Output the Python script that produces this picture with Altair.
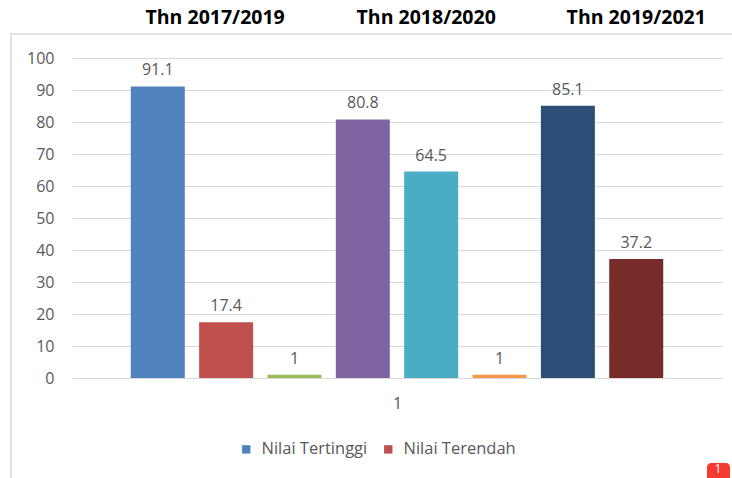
import altair as alt
import pandas as pd

# ---- data ----
bar_ids = ["b1", "b2", "b3", "b4", "b5", "b6", "b7", "b8"]
values = [91.1, 17.4, 1, 80.8, 64.5, 1, 85.1, 37.2]
colors = ["#4F81BD", "#C0504D", "#9BBB59", "#8064A2", "#4BACC6", "#F79646", "#2C4D75", "#772C2A"]
period_titles = ["Thn 2017/2019", "Thn 2018/2020", "Thn 2019/2021"]
period_anchor = ["b2", "b5", "b8"]
period_dx = [-11, -5, 0]
legend_names = ["Nilai Tertinggi", "Nilai Terendah"]
legend_colors = ["#4F81BD", "#C0504D"]
y_ticks = [0, 10, 20, 30, 40, 50, 60, 70, 80, 90, 100]

FONT = "Open Sans"
GRAY = "#595959"

df = pd.DataFrame({"bar": bar_ids, "value": values, "color": colors})
leg = pd.DataFrame({"series": legend_names, "bar": ["b1", "b1"], "value": [0, 0]})

xscale = alt.Scale(domain=bar_ids, paddingInner=0.21, paddingOuter=0.86)
yscale = alt.Scale(domain=[0, 100], nice=False)

x_axis = alt.Axis(labels=False, ticks=False, domain=False, grid=False,
                  title="1", titleFont=FONT, titleFontSize=16,
                  titleFontWeight="normal", titleColor=GRAY, titlePadding=17)
y_axis = alt.Axis(values=y_ticks, title=None, domain=False, ticks=False,
                  labelOverlap=False, labelFont=FONT, labelFontSize=16,
                  labelColor=GRAY, labelPadding=18,
                  gridColor="#D9D9D9", gridWidth=1.2)
x = alt.X("bar:N", scale=xscale, sort=bar_ids, axis=x_axis)
y = alt.Y("value:Q", scale=yscale, axis=y_axis)

bars = alt.Chart(df).mark_bar(size=54).encode(
    x=x, y=y, color=alt.Color("color:N", scale=None)
)

labels = alt.Chart(df).mark_text(
    font=FONT, fontSize=16, color=GRAY, baseline="bottom", dy=-8
).encode(x=x, y=y, text=alt.Text("value:Q"))

title_layers = []
for t, a, d in zip(period_titles, period_anchor, period_dx):
    title_layers.append(
        alt.Chart(pd.DataFrame({"bar": [a], "title": [t]})).mark_text(
            font=FONT, fontSize=19.5, fontWeight="bold", color="#000000",
            baseline="middle", dx=d
        ).encode(x=x, y=alt.value(-40), text="title:N")
    )

legend_pts = alt.Chart(leg).mark_square(size=0, opacity=0).encode(
    x=x,
    y=y,
    fill=alt.Fill("series:N", scale=alt.Scale(domain=legend_names, range=legend_colors),
                  legend=alt.Legend(title=None, orient="none", direction="horizontal",
                                    legendX=166, legendY=383, symbolType="square",
                                    symbolSize=70, symbolOpacity=1, symbolStrokeWidth=0,
                                    labelFont=FONT, labelFontSize=16.5, labelColor=GRAY,
                                    labelOffset=7, columnPadding=12, labelLimit=300))
)

# chart frame (decoration)
frame_top = alt.Chart(pd.DataFrame({"a": [0]})).mark_rule(color="#D9D9D9", strokeWidth=1.5).encode(
    x=alt.value(-62), x2=alt.value(670), y=alt.value(-24))
frame_left = alt.Chart(pd.DataFrame({"a": [0]})).mark_rule(color="#D9D9D9", strokeWidth=1.5).encode(
    x=alt.value(-61), y=alt.value(-24), y2=alt.value(430))

# notification badge (decoration)
badge = alt.Chart(pd.DataFrame({"t": ["1"]})).mark_rect(color="#F53A32", cornerRadius=4).encode(
    x=alt.value(635), x2=alt.value(658), y=alt.value(405), y2=alt.value(430))
badge_txt = alt.Chart(pd.DataFrame({"t": ["1"]})).mark_text(
    color="white", font=FONT, fontSize=12, baseline="middle").encode(
    x=alt.value(646), y=alt.value(411), text="t:N")

chart = alt.layer(frame_top, frame_left, bars, labels, *title_layers, legend_pts, badge, badge_txt).properties(
    width=650, height=320,
    autosize=alt.AutoSizeParams(type="none"),
    padding={"left": 72, "top": 58, "right": 10, "bottom": 100},
    background="white",
).configure_view(stroke=None)

chart.save("out.html", embed_options={"renderer": "svg", "actions": False})
